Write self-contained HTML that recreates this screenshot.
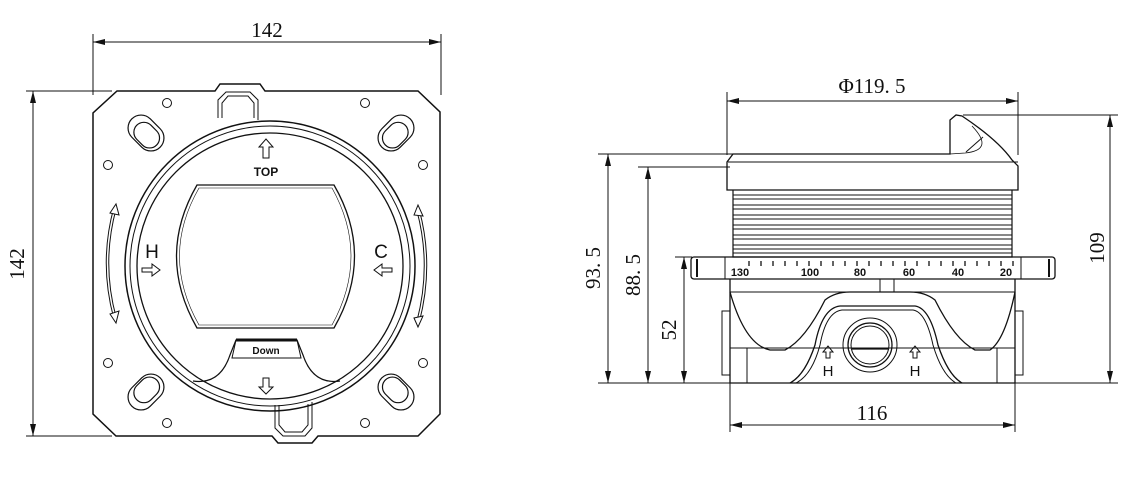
<!DOCTYPE html>
<html><head><style>
html,body{margin:0;padding:0;background:#fff;}
svg{display:block}
text{font-family:"Liberation Serif",serif;fill:#111}
text.s{font-family:"Liberation Sans",sans-serif;font-weight:bold}
text.n{font-family:"Liberation Sans",sans-serif}
</style></head><body>
<svg width="1139" height="489" viewBox="0 0 1139 489" xmlns="http://www.w3.org/2000/svg">
<defs>
<marker id="a" markerWidth="12" markerHeight="6" refX="12" refY="3" orient="auto-start-reverse" markerUnits="userSpaceOnUse"><path d="M0,0 L12,3 L0,6z" fill="#111"/></marker>
</defs>
<g stroke="#111" fill="none" stroke-width="1">
<line x1="93" y1="34" x2="93" y2="95"/><line x1="441" y1="34" x2="441" y2="95"/>
<line x1="93" y1="42" x2="441" y2="42" marker-start="url(#a)" marker-end="url(#a)"/>
<line x1="26" y1="91" x2="112" y2="91"/><line x1="26" y1="436" x2="112" y2="436"/>
<line x1="33" y1="91" x2="33" y2="436" marker-start="url(#a)" marker-end="url(#a)"/>
<path d="M117,91 L215,91 L220,84 L260,84 L265,91 L418,91 L440,112 L440,414 L418,436 L318,436 L312,443 L278,443 L272,436 L116,436 L93,414 L93,113 Z" stroke-width="1.5"/>
<g stroke-width="1.2">
<g transform="translate(146,133) rotate(45)"><rect x="-20" y="-13" width="40" height="26" rx="13"/><rect x="-12" y="-9" width="28" height="20" rx="10"/></g>
<g transform="translate(396,133) rotate(-45)"><rect x="-20" y="-13" width="40" height="26" rx="13"/><rect x="-16" y="-9" width="28" height="20" rx="10"/></g>
<g transform="translate(146,392) rotate(-45)"><rect x="-20" y="-13" width="40" height="26" rx="13"/><rect x="-12" y="-11" width="28" height="20" rx="10"/></g>
<g transform="translate(396,392) rotate(45)"><rect x="-20" y="-13" width="40" height="26" rx="13"/><rect x="-16" y="-11" width="28" height="20" rx="10"/></g>
</g>
<circle cx="167" cy="103" r="4.5"/><circle cx="365" cy="103" r="4.5"/><circle cx="108" cy="165" r="4.5"/><circle cx="423" cy="165" r="4.5"/>
<circle cx="108" cy="363" r="4.5"/><circle cx="423" cy="363" r="4.5"/><circle cx="167" cy="423" r="4.5"/><circle cx="365" cy="423" r="4.5"/>
<path d="M218,118 L218,100 L226,92 L250,92 L258,100 L258,120"/><path d="M222,118 L222,103 L228,96 L248,96 L254,103 L254,118"/>
<path d="M275,405 L275,428 L283,436 L305,436 L312,428 L312,402"/><path d="M279,405 L279,425 L285,432 L302,432 L308,425 L308,404"/>
<circle cx="270" cy="266" r="145" stroke-width="1.5"/>
<circle cx="270" cy="266" r="140"/>
<circle cx="270" cy="266" r="133" stroke-width="1.3"/>
<path d="M197,185 L334,185 Q375,256 334,328 L197,328 Q156,256 197,185 Z" stroke-width="1.3"/>
<path d="M199,188 L332,188 Q370,256 332,325 L199,325 Q160,256 199,188 Z" stroke-width="0.6"/>
<path d="M193,381 Q220,385 230,355 L236,340 L297,340 L303,355 Q313,385 340,381" stroke-width="1.2"/>
<path d="M236,340 L232,358 L301,358 L297,340" fill="#fff"/>
<line x1="236" y1="340" x2="297" y2="340" stroke-width="3"/>
<path d="M263,158 L263,147 L259,147 L266,139 L273,147 L269,147 L269,158 Z"/>
<path d="M263,378 L263,387 L259,387 L266,394 L273,387 L269,387 L269,378 Z"/>
<path d="M142,268 L152,268 L152,264 L160,270 L152,276 L152,272 L142,272 Z"/>
<path d="M392,268 L382,268 L382,264 L374,270 L382,276 L382,272 L392,272 Z"/>
<path d="M115,208 Q100,263 115,318" stroke-width="3.5"/><path d="M115,208 Q100,263 115,318" stroke="#fff" stroke-width="1.5"/>
<path d="M418,210 Q433,265 418,322" stroke-width="3.5"/><path d="M418,210 Q433,265 418,322" stroke="#fff" stroke-width="1.5"/>
<path d="M110,213 L116,204 L119,215Z M110,314 L116,323 L119,311Z M414,215 L418,205 L423,216Z M414,318 L418,327 L423,316Z" fill="#fff"/>

<line x1="727" y1="92" x2="727" y2="155"/><line x1="1018" y1="92" x2="1018" y2="155"/>
<line x1="727" y1="101" x2="1018" y2="101" marker-start="url(#a)" marker-end="url(#a)"/>
<line x1="598" y1="154" x2="735" y2="154"/><line x1="638" y1="167" x2="730" y2="167"/>
<line x1="675" y1="257" x2="692" y2="257"/>
<line x1="598" y1="383" x2="1118" y2="383"/>
<line x1="608" y1="154" x2="608" y2="383" marker-start="url(#a)" marker-end="url(#a)"/>
<line x1="648" y1="167" x2="648" y2="383" marker-start="url(#a)" marker-end="url(#a)"/>
<line x1="684" y1="257" x2="684" y2="383" marker-start="url(#a)" marker-end="url(#a)"/>
<line x1="963" y1="115" x2="1118" y2="115"/>
<line x1="1110" y1="115" x2="1110" y2="383" marker-start="url(#a)" marker-end="url(#a)"/>
<line x1="730" y1="383" x2="730" y2="432"/><line x1="1015" y1="383" x2="1015" y2="432"/>
<line x1="730" y1="425" x2="1015" y2="425" marker-start="url(#a)" marker-end="url(#a)"/>
<path d="M727,190 L727,162 L733,154 L950,154 L950,120 L956,115 L962,116 Q998,140 1012,160 L1018,166 L1018,190 Z" stroke-width="1.3"/>
<line x1="728" y1="162" x2="1018" y2="162"/>
<path d="M950,154 L965,153 Q995,150 972,126" stroke-width="0.8"/><line x1="966" y1="152" x2="983" y2="137"/>
<path d="M733,190 L733,257 L1012,257 L1012,190" stroke-width="1.2"/>
<g stroke-width="0.9">
<line x1="733" y1="195" x2="1012" y2="195"/><line x1="733" y1="199" x2="1012" y2="199"/>
<line x1="733" y1="205" x2="1012" y2="205"/><line x1="733" y1="209" x2="1012" y2="209"/>
<line x1="733" y1="215" x2="1012" y2="215"/><line x1="733" y1="219" x2="1012" y2="219"/>
<line x1="733" y1="225" x2="1012" y2="225"/><line x1="733" y1="229" x2="1012" y2="229"/>
<line x1="733" y1="235" x2="1012" y2="235"/><line x1="733" y1="239" x2="1012" y2="239"/>
<line x1="733" y1="245" x2="1012" y2="245"/><line x1="733" y1="249" x2="1012" y2="249"/>
<line x1="733" y1="253" x2="1012" y2="253"/>
</g>
<rect x="691" y="257" width="364" height="22" rx="3" stroke-width="1.3"/>
<line x1="725" y1="257" x2="725" y2="279"/><line x1="1021" y1="257" x2="1021" y2="279"/>
<line x1="697" y1="259" x2="697" y2="277" stroke-width="2"/><line x1="1049" y1="259" x2="1049" y2="277" stroke-width="2"/>
<g stroke-width="1.3">
<line x1="749" y1="261" x2="749" y2="266"/><line x1="761" y1="261" x2="761" y2="266"/><line x1="773" y1="261" x2="773" y2="266"/><line x1="785" y1="261" x2="785" y2="266"/><line x1="797" y1="261" x2="797" y2="266"/><line x1="809" y1="261" x2="809" y2="266"/><line x1="821" y1="261" x2="821" y2="266"/><line x1="833" y1="261" x2="833" y2="266"/><line x1="845" y1="261" x2="845" y2="266"/><line x1="857" y1="261" x2="857" y2="266"/><line x1="869" y1="261" x2="869" y2="266"/><line x1="881" y1="261" x2="881" y2="266"/><line x1="893" y1="261" x2="893" y2="266"/><line x1="905" y1="261" x2="905" y2="266"/><line x1="917" y1="261" x2="917" y2="266"/><line x1="929" y1="261" x2="929" y2="266"/><line x1="941" y1="261" x2="941" y2="266"/><line x1="953" y1="261" x2="953" y2="266"/><line x1="965" y1="261" x2="965" y2="266"/><line x1="977" y1="261" x2="977" y2="266"/><line x1="989" y1="261" x2="989" y2="266"/><line x1="1001" y1="261" x2="1001" y2="266"/><line x1="1013" y1="261" x2="1013" y2="266"/>
</g>
<path d="M730,279 L730,383 L1015,383 L1015,279" stroke-width="1.3"/>
<line x1="730" y1="292" x2="1015" y2="292"/>
<rect x="722" y="311" width="8" height="64"/><rect x="1015" y="311" width="8" height="64"/>
<line x1="730" y1="348" x2="1015" y2="348"/><line x1="747" y1="348" x2="747" y2="383"/><line x1="997" y1="348" x2="997" y2="383"/>
<rect x="880" y="279" width="14" height="13"/>
<path d="M730,292 Q745,345 770,350 L785,350 Q805,340 825,300 Q835,292 850,292 L910,292 Q925,292 935,300 Q955,340 975,350 L990,350 Q1005,340 1015,292" stroke-width="1.3"/>
<path d="M790,383 Q805,375 815,345 Q822,308 840,306 L915,306 Q930,308 938,345 Q948,375 962,383" stroke-width="1.3"/>
<path d="M796,383 Q812,375 820,345 Q826,312 842,310 L913,310 Q926,312 933,345 Q942,375 956,383"/>
<circle cx="870" cy="345" r="27"/><circle cx="870" cy="345" r="22" stroke-width="1.3"/><circle cx="870" cy="345" r="19"/>
<line x1="852" y1="349" x2="888" y2="349" stroke-width="1.3"/>
<path d="M826,358 L826,352 L823,352 L828,346 L833,352 L830,352 L830,358 Z"/>
<path d="M913,358 L913,352 L910,352 L915,346 L920,352 L917,352 L917,358 Z"/>
</g>
<text x="267" y="37" font-size="21" text-anchor="middle">142</text>
<text x="0" y="0" font-size="21" text-anchor="middle" transform="translate(24,264) rotate(-90)">142</text>
<text x="266" y="176" font-size="12" text-anchor="middle" class="s">TOP</text>
<text x="266" y="354" font-size="10" text-anchor="middle" class="s">Down</text>
<text x="152" y="258" font-size="19" text-anchor="middle" class="n">H</text>
<text x="381" y="258" font-size="19" text-anchor="middle" class="n">C</text>
<text x="872" y="93" font-size="21" text-anchor="middle">Φ119. 5</text>
<text x="872" y="420" font-size="21" text-anchor="middle">116</text>
<text x="0" y="0" font-size="21" text-anchor="middle" transform="translate(600,268) rotate(-90)">93. 5</text>
<text x="0" y="0" font-size="21" text-anchor="middle" transform="translate(640,275) rotate(-90)">88. 5</text>
<text x="0" y="0" font-size="21" text-anchor="middle" transform="translate(676,330) rotate(-90)">52</text>
<text x="0" y="0" font-size="21" text-anchor="middle" transform="translate(1104,248) rotate(-90)">109</text>
<text class="s" font-size="11" text-anchor="middle" x="740" y="276">130</text>
<text class="s" font-size="11" text-anchor="middle" x="810" y="276">100</text>
<text class="s" font-size="11" text-anchor="middle" x="860" y="276">80</text>
<text class="s" font-size="11" text-anchor="middle" x="909" y="276">60</text>
<text class="s" font-size="11" text-anchor="middle" x="958" y="276">40</text>
<text class="s" font-size="11" text-anchor="middle" x="1006" y="276">20</text>
<text class="n" font-size="15" text-anchor="middle" x="828" y="376">H</text>
<text class="n" font-size="15" text-anchor="middle" x="915" y="376">H</text>
</svg>
</body></html>
